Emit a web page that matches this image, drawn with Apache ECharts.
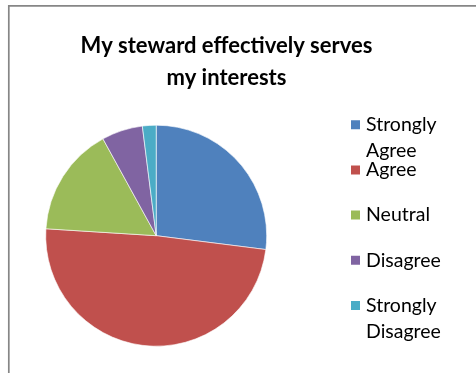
<!DOCTYPE html>
<html>
<head>
<meta charset="utf-8">
<script src="https://cdn.jsdelivr.net/npm/echarts@6/dist/echarts.min.js"></script>
<style>
  html, body { margin: 0; padding: 0; background: #fff; }
  #chart { width: 476px; height: 373px; }
</style>
</head>
<body>
<div id="chart"></div>
<script>
// Survey responses (percent of respondents)
const titleText = 'My steward effectively serves\nmy interests';
const categories = ['Strongly Agree', 'Agree', 'Neutral', 'Disagree', 'Strongly Disagree'];
const values = [27, 49, 16, 6, 2];
const colors = ['#4F81BD', '#C0504D', '#9BBB59', '#8064A2', '#4BACC6'];

const chart = echarts.init(document.getElementById('chart'), null, { renderer: 'canvas' });

// Legend labels: first word beside the swatch, second word on the next line.
// A blank leading line keeps every label three lines tall so the swatch lines up with the first word.
function legendLabel(name) {
  const parts = name.split(' ');
  return ' \n' + parts[0] + '\n' + (parts[1] || ' ');
}

const legendLineHeight = 26;

chart.setOption({
  backgroundColor: '#ffffff',
  animation: false,
  color: colors,
  graphic: [{
    type: 'rect',
    silent: true,
    shape: { x: 8.8, y: 5.8, width: 490, height: 390 },
    style: { fill: null, stroke: '#868686', lineWidth: 1.7 }
  }],
  title: {
    text: titleText,
    left: 226.5,
    top: 29.5,
    padding: 0,
    textAlign: 'center',
    textVerticalAlign: 'top',
    textStyle: {
      fontFamily: 'Lato',
      fontWeight: 'bold',
      fontSize: 22,
      lineHeight: 32,
      color: '#000000'
    }
  },
  legend: {
    orient: 'vertical',
    left: 349,
    top: 124.7 - legendLineHeight * 1.5,
    padding: 0,
    itemWidth: 11,
    itemHeight: 11,
    itemGap: 45.2 - legendLineHeight * 3,
    icon: 'rect',
    selectedMode: false,
    data: categories,
    formatter: legendLabel,
    textStyle: {
      fontFamily: 'Lato',
      fontSize: 19.5,
      lineHeight: legendLineHeight,
      color: '#000000'
    }
  },
  series: [{
    type: 'pie',
    center: [156.2, 235.7],
    radius: 110.5,
    startAngle: 90,
    clockwise: true,
    label: { show: false },
    labelLine: { show: false },
    emphasis: { disabled: true },
    itemStyle: { borderColor: '#ffffff', borderWidth: 0.6 },
    data: categories.map((name, i) => ({ name: name, value: values[i] }))
  }]
});
</script>
</body>
</html>
